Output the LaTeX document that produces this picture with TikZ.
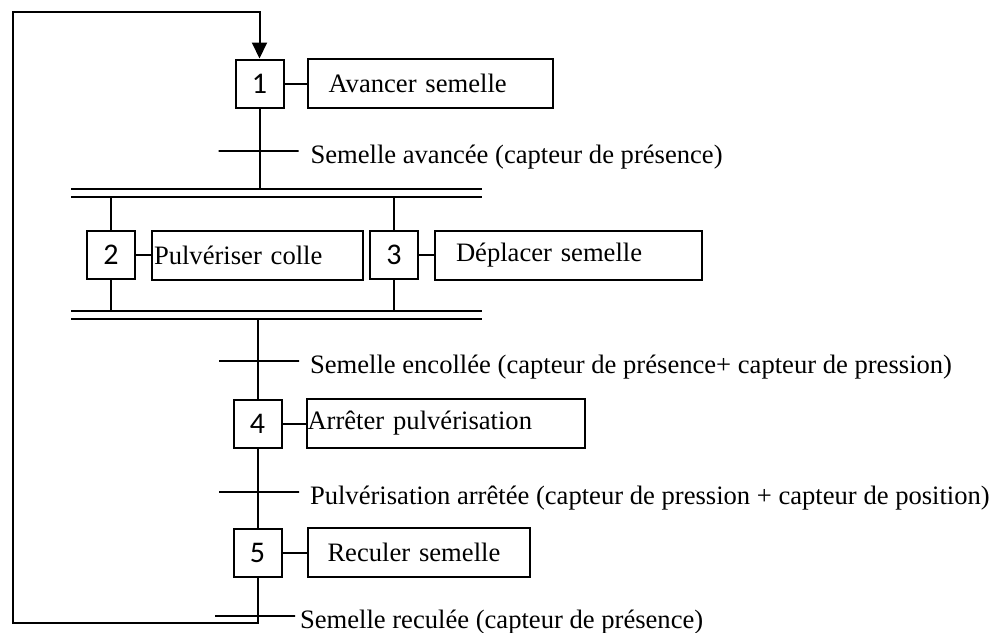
\documentclass[tikz,border=0pt]{standalone}
\usepackage{fontspec}
\setmainfont{Liberation Serif}
\newfontfamily\carlito{Carlito}
\usetikzlibrary{arrows.meta,positioning}

\tikzset{
	etape/.style={draw, line width=1pt, minimum width=24pt, minimum height=24pt, inner sep=0pt, font=\carlito\fontsize{15}{16}\selectfont},
	action/.style 2 args={draw, line width=1pt, minimum height=24.5pt, inner ysep=0pt, inner xsep=#1, text width=#2, align=left},
	barre/.style={draw, line width=1pt, minimum width=40pt, minimum height=0pt, inner sep=0pt},
	recept/.style={anchor=west, inner sep=0pt, yshift=-3.2pt},
	synchro/.style={minimum width=204.5pt, minimum height=3pt, inner sep=0pt},
}

\begin{document}
\begin{tikzpicture}[x=0.5pt, y=-0.5pt, line width=1pt, font=\fontsize{13.3}{16}\selectfont]
	\useasboundingbox (0,0) rectangle (994,632);

	%etapes
	\node [etape] (e1) at (259.5,83.5) {1};
	\node [etape] (e2) at (111,255) {2};
	\node [etape] (e3) at (394,255) {3};
	\node [etape] (e4) at (257.5,423.5) {4};
	\node [etape] (e5) at (257.5,552.5) {5};

	%actions
	\node [action={10.5pt}{101.5pt}, right=11pt of e1] (a1) {Avancer semelle};
	\node [action={1pt}{103.5pt}, right=7.5pt of e2] (a2) {Pulvériser colle};
	\node [action={10.5pt}{112.5pt}, right=7.5pt of e3] (a3) {Déplacer semelle};
	\node [action={0.5pt}{138pt}, right=11.5pt of e4] (a4) {Arrêter pulvérisation};
	\node [action={10pt}{91pt}, right=12pt of e5] (a5) {Reculer semelle};
	\foreach \i in {1,...,5}
		\draw (e\i.east) -- (a\i.west);

	%transitions
	\node [barre] (t1) at (258.5,151) {};
	\node [barre] (t2) at (259,361) {};
	\node [barre] (t3) at (259,492) {};
	\node [barre] (t4) at (255,616) {};
	\node [recept, right=5pt of t1.east] (r1) {Semelle avancée (capteur de présence)};
	\node [recept, right=4.5pt of t2.east] (r2) {Semelle encollée (capteur de présence+ capteur de pression)};
	\node [recept, right=4.5pt of t3.east] (r3) {Pulvérisation arrêtée (capteur de pression + capteur de position)};
	\node [recept, right=1.5pt of t4.east] (r4) {Semelle reculée (capteur de présence)};

	%double barres
	\node [synchro] (s1) at (276.5,193) {};
	\node [synchro] (s2) at (276.5,314.5) {};
	\foreach \s in {s1,s2}
		\draw (\s.north west) -- (\s.north east) (\s.south west) -- (\s.south east);

	%liaisons
	\draw (e1.south) -- (e1.south |- s1.north);
	\draw (e2.north |- s1.south) -- (e2.north);
	\draw (e3.north |- s1.south) -- (e3.north);
	\draw (e2.south) -- (e2.south |- s2.north);
	\draw (e3.south) -- (e3.south |- s2.north);
	\draw (e4.north |- s2.south) -- (e4.north);
	\draw (e4.south) -- (e5.north);

	%retour
	\coordinate (bas) at (13,623);
	\coordinate (haut) at (259.5,12);
	\draw [-{Triangle[width=7.5pt,length=8pt]}] (e5.south) |- (bas) |- (haut) -- (e1.north);

\end{tikzpicture}
\end{document}
